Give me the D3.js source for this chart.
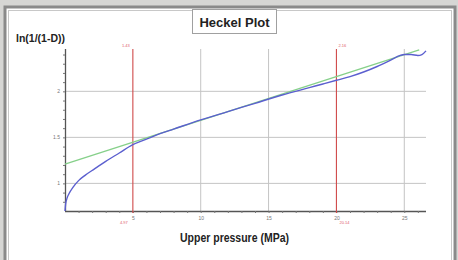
<!DOCTYPE html>
<html>
<head>
<meta charset="utf-8">
<script src="https://cdn.jsdelivr.net/npm/d3@7"></script>
<style>
  body { margin: 0; background: #d6d6d4; }
  svg { display: block; }
</style>
</head>
<body>
<div id="chart"></div>
<script>
// chart data
//- - - - - - - - - - - - - - - - - - - - - -
var pressure = [0, 0.05, 0.15, 0.3, 0.6, 1, 1.5, 2.2, 3, 4, 5, 6, 7, 8, 10, 12, 14, 16, 18, 19, 20, 21, 22, 23, 24, 24.7, 25, 25.5, 26, 26.3, 26.6];
var lnValues = [0.7, 0.78, 0.84, 0.89, 0.96, 1.03, 1.09, 1.16, 1.24, 1.33, 1.42, 1.48, 1.54, 1.59, 1.69, 1.78, 1.87, 1.96, 2.04, 2.08, 2.12, 2.16, 2.21, 2.27, 2.34, 2.39, 2.40, 2.40, 2.39, 2.40, 2.44];
var fitPressure = [0, 26.1];
var fitValues = [1.21, 2.45];
var xTicks = [5, 10, 15, 20, 25];
var yTicks = [1, 1.5, 2];
var markerPressure = [5, 20];
var markerTopLabels = ['1.43', '2.16'];
var markerBottomLabels = ['4.97', '20.14'];

(function(d3) {
	var width = 458, height = 260;
	var left = 65, right = 426, top = 49, bottom = 211;

	var svg = d3.select('#chart').append('svg')
		.attr('width', width)
		.attr('height', height);

	// frame round the panel
	//- - - - - - - - - - - - - - - - - - - - - -
	svg.append('rect')
		.attr('x', 5).attr('y', 7)
		.attr('width', 450).attr('height', 260)
		.attr('fill', '#fff')
		.attr('stroke', '#8a8a8a').attr('stroke-width', 3);
	svg.append('rect')
		.attr('x', 8.5).attr('y', 10.5)
		.attr('width', 443).attr('height', 260)
		.attr('fill', 'none')
		.attr('stroke', '#c8c8c8').attr('stroke-width', 1);

	// title box
	//- - - - - - - - - - - - - - - - - - - - - -
	svg.append('rect')
		.attr('x', 192.5).attr('y', 9.5)
		.attr('width', 84).attr('height', 24)
		.attr('fill', '#fff')
		.attr('stroke', '#a0a0a0').attr('stroke-width', 1);
	svg.append('text')
		.attr('x', 234.5).attr('y', 27)
		.attr('text-anchor', 'middle')
		.style('font', 'bold 13px "Liberation Sans", Arial, sans-serif')
		.attr('fill', '#222')
		.text('Heckel Plot');

	var x = d3.scaleLinear().domain([0, 26.6]).range([left, right]);
	var y = d3.scaleLinear().domain([0.7, 2.46]).range([bottom, top]);

	// grid lines
	//- - - - - - - - - - - - - - - - - - - - - -
	svg.append('g').selectAll('line')
		.data(xTicks.filter(function(d) { return markerPressure.indexOf(d) < 0; }))
		.enter().append('line')
		.attr('x1', function(d) { return x(d); }).attr('x2', function(d) { return x(d); })
		.attr('y1', top).attr('y2', bottom)
		.attr('stroke', '#c4c4c4').attr('stroke-width', 1);
	svg.append('g').selectAll('line')
		.data(yTicks)
		.enter().append('line')
		.attr('x1', left).attr('x2', right)
		.attr('y1', function(d) { return y(d); }).attr('y2', function(d) { return y(d); })
		.attr('stroke', '#c4c4c4').attr('stroke-width', 1);

	// axes
	//- - - - - - - - - - - - - - - - - - - - - -
	var xAxis = svg.append('g')
		.attr('transform', 'translate(0,' + bottom + ')')
		.call(d3.axisBottom(x).tickValues(d3.range(1, 27)).tickSize(2).tickFormat(function(d) {
			return xTicks.indexOf(d) >= 0 ? d : '';
		}));
	var yAxis = svg.append('g')
		.attr('transform', 'translate(' + left + ',0)')
		.call(d3.axisLeft(y).tickValues(d3.range(8, 25).map(function(d) { return d / 10; })).tickSize(2).tickFormat(function(d) {
			return yTicks.indexOf(d) >= 0 ? d : '';
		}));
	[xAxis, yAxis].forEach(function(g) {
		g.select('.domain').attr('stroke', '#555').attr('stroke-width', 1.3);
		g.selectAll('.tick line').attr('stroke', '#777');
		g.selectAll('.tick text')
			.attr('fill', '#777')
			.style('font', '5px "Liberation Sans", Arial, sans-serif');
	});
	yAxis.select('.domain').attr('d', 'M0.5,' + top + 'V' + bottom);
	xAxis.select('.domain').attr('d', 'M' + left + ',0.5H' + right);

	// red marker lines
	//- - - - - - - - - - - - - - - - - - - - - -
	svg.append('g').selectAll('line')
		.data(markerPressure)
		.enter().append('line')
		.attr('x1', function(d) { return x(d); }).attr('x2', function(d) { return x(d); })
		.attr('y1', top).attr('y2', bottom + 2)
		.attr('stroke', '#d04a4a').attr('stroke-width', 1.1);
	svg.append('g').selectAll('text')
		.data(markerPressure)
		.enter().append('text')
		.attr('x', function(d, i) { return x(d) + (i === 0 ? -7 : 6); })
		.attr('y', 47)
		.attr('text-anchor', 'middle')
		.attr('fill', '#e05a6a')
		.style('font', '4px "Liberation Sans", Arial, sans-serif')
		.text(function(d, i) { return markerTopLabels[i]; });
	svg.append('g').selectAll('text')
		.data(markerPressure)
		.enter().append('text')
		.attr('x', function(d, i) { return x(d) + (i === 0 ? -9 : 8); })
		.attr('y', 224)
		.attr('text-anchor', 'middle')
		.attr('fill', '#e05a6a')
		.style('font', '4px "Liberation Sans", Arial, sans-serif')
		.text(function(d, i) { return markerBottomLabels[i]; });

	// fitted line and measured curve
	//- - - - - - - - - - - - - - - - - - - - - -
	var line = d3.line()
		.x(function(d) { return x(d[0]); })
		.y(function(d) { return y(d[1]); });
	var curve = d3.line()
		.curve(d3.curveMonotoneX)
		.x(function(d) { return x(d[0]); })
		.y(function(d) { return y(d[1]); });

	svg.append('path')
		.datum(d3.zip(fitPressure, fitValues))
		.attr('d', line)
		.attr('fill', 'none')
		.attr('stroke', '#86d08a').attr('stroke-width', 1.4);
	svg.append('path')
		.datum(d3.zip(pressure, lnValues))
		.attr('d', curve)
		.attr('fill', 'none')
		.attr('stroke', '#5b5fcf').attr('stroke-width', 1.4);

	// axis titles
	//- - - - - - - - - - - - - - - - - - - - - -
	svg.append('text')
		.attr('x', 16).attr('y', 42)
		.attr('textLength', 49).attr('lengthAdjust', 'spacingAndGlyphs')
		.style('font', 'bold 11px "Liberation Sans", Arial, sans-serif')
		.attr('fill', '#222')
		.text('ln(1/(1-D))');
	svg.append('text')
		.attr('x', 180).attr('y', 242)
		.attr('textLength', 109).attr('lengthAdjust', 'spacingAndGlyphs')
		.style('font', 'bold 13px "Liberation Sans", Arial, sans-serif')
		.attr('fill', '#222')
		.text('Upper pressure (MPa)');
})(d3);
</script>
</body>
</html>
